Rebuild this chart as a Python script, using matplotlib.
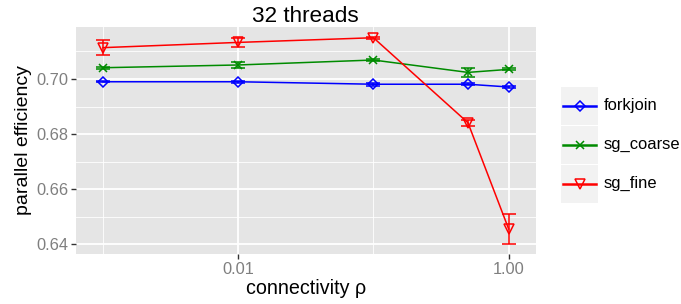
import matplotlib
matplotlib.use("Agg")
import matplotlib.pyplot as plt
from matplotlib.patches import Rectangle
from matplotlib.lines import Line2D

plt.rcParams['font.family'] = ['Liberation Sans', 'DejaVu Sans']

# connectivity values (log x axis)
rho = [0.001, 0.01, 0.1, 0.5, 1.0]

# parallel efficiency and error half-widths per method
forkjoin = [0.6990, 0.6990, 0.6981, 0.6981, 0.6971]
forkjoin_err = [0.0002, 0.0004, 0.0005, 0.0003, 0.0004]
sg_coarse = [0.7041, 0.7051, 0.7069, 0.7024, 0.7035]
sg_coarse_err = [0.0003, 0.0012, 0.0004, 0.0017, 0.0004]
sg_fine = [0.7114, 0.7133, 0.7150, 0.6841, 0.6455]
sg_fine_err = [0.0026, 0.0015, 0.0003, 0.0011, 0.0053]

labels = ["forkjoin", "sg_coarse", "sg_fine"]
colors = ["#0000FF", "#008B00", "#FF0000"]
markers = ["D", "x", "v"]
msizes = [5, 5.5, 6.5]

y_ticks = [0.64, 0.66, 0.68, 0.70]
y_minor = [0.65, 0.67, 0.69, 0.71]
x_ticks = [0.01, 1.0]
x_ticklabels = ["0.01", "1.00"]
x_minor = [0.001, 0.1]

fig = plt.figure(figsize=(6.81, 3.04), dpi=100)
ax = fig.add_axes([76 / 681, 1 - 254 / 304, (535.7 - 76) / 681, (254 - 27) / 304])
ax.set_facecolor("#E5E5E5")
ax.set_xscale("log")
ax.set_xlim(10 ** -3.2, 10 ** 0.2)
ax.set_ylim(0.6364, 0.7189)

# grid lines, ggplot style
for v in x_minor:
    ax.axvline(v, color="white", lw=0.6, zorder=0)
for v in x_ticks:
    ax.axvline(v, color="white", lw=1.3, zorder=0)
for v in y_minor:
    ax.axhline(v, color="white", lw=0.6, zorder=0)
for v in y_ticks:
    ax.axhline(v, color="white", lw=1.3, zorder=0)

series = [(forkjoin, forkjoin_err), (sg_coarse, sg_coarse_err), (sg_fine, sg_fine_err)]
for (vals, errs), lab, c, m, ms in zip(series, labels, colors, markers, msizes):
    ax.errorbar(rho, vals, yerr=errs, color=c, lw=1.1, elinewidth=1.1,
                capsize=4.7, capthick=1.1, marker=m, markersize=ms,
                markerfacecolor="none", markeredgecolor=c, markeredgewidth=1.1,
                label=lab, zorder=3)

ax.set_xticks(x_ticks)
ax.set_xticklabels(x_ticklabels)
ax.xaxis.set_minor_locator(matplotlib.ticker.NullLocator())
ax.set_yticks(y_ticks)
ax.set_yticklabels(["%.2f" % t for t in y_ticks])
ax.tick_params(axis="both", length=3.5, width=1, color="#333333",
               labelcolor="#7F7F7F", labelsize=11.8, pad=2)
for s in ax.spines.values():
    s.set_visible(False)

ax.set_xlabel("connectivity ρ", fontsize=14.2, labelpad=2)
ax.set_ylabel("parallel efficiency", fontsize=14, labelpad=3)
ax.set_title("32 threads", fontsize=16.2, pad=3)

# legend with grey key boxes
lax = fig.add_axes([0, 0, 1, 1], facecolor="none")
lax.set_xlim(0, 681)
lax.set_ylim(304, 0)
lax.axis("off")
key_top = 87
key_h = 37.5
for i, (lab, c, m, ms) in enumerate(zip(labels, colors, markers, msizes)):
    top = key_top + i * (key_h + 1.5)
    lax.add_patch(Rectangle((561, top), 37, key_h, facecolor="#F2F2F2", edgecolor="none"))
    cy = top + key_h / 2
    lax.add_line(Line2D([563, 596], [cy, cy], color=c, lw=1.8))
    lax.add_line(Line2D([579.5], [cy], color=c, marker=m, markersize=ms,
                        markerfacecolor="none", markeredgewidth=1.1))
    lax.text(604, cy, lab, fontsize=11.9, va="center", ha="left", color="black")

fig.savefig("out.png", dpi=100)
